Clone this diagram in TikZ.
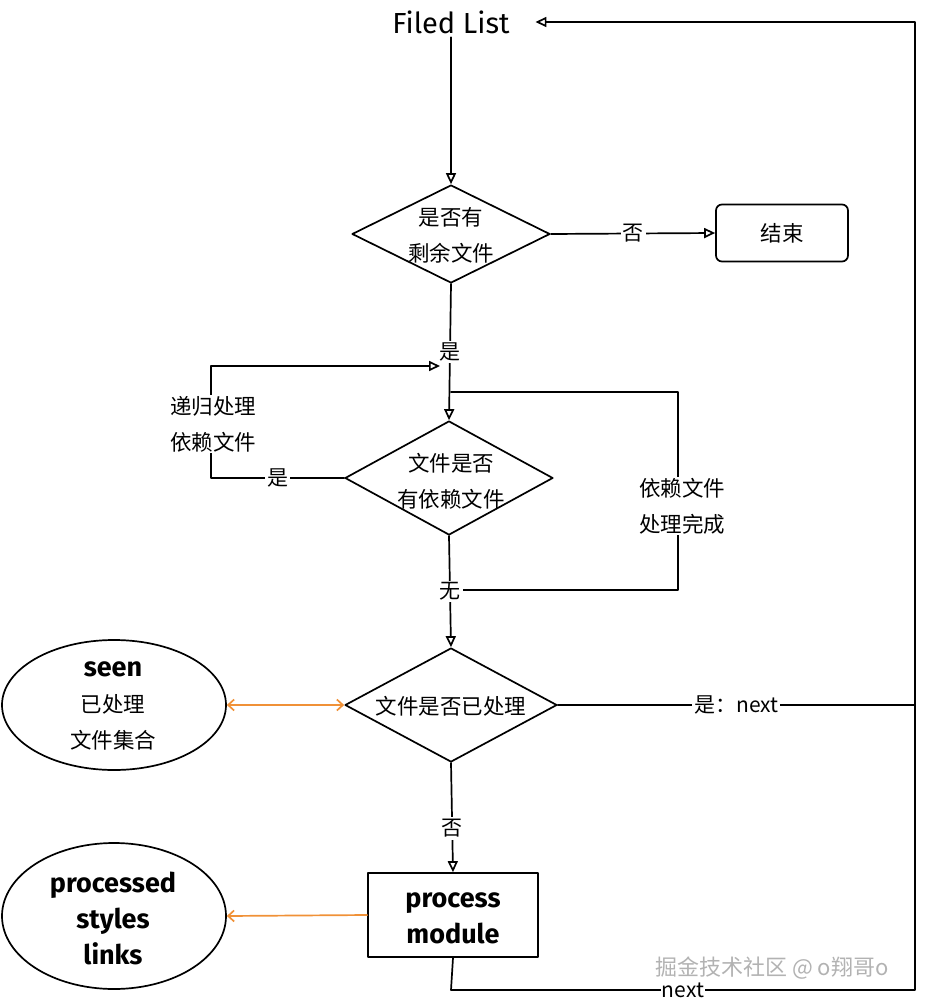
\documentclass[tikz,border=0pt]{standalone}
\usepackage{fontspec}
\setmainfont{Noto Sans CJK SC}
\newfontfamily\lat{Fira Sans}
\usetikzlibrary{shapes.geometric,arrows.meta}
\definecolor{arrorange}{RGB}{240,145,55}
\begin{document}
\begin{tikzpicture}[x=1pt,y=-1pt,
  line width=1.7pt, line join=round, line cap=round,
  dia/.style={draw, diamond, inner sep=0pt},
  txt/.style={font=\fontsize{21.5}{36}\selectfont, align=center, inner sep=1pt},
  lbl/.style={font=\fontsize{21}{24}\selectfont, fill=white, inner sep=2pt},
  big/.style={font=\lat\fontsize{27}{36}\selectfont\bfseries, align=center},
  arr/.style={-{Triangle[open,length=11pt,width=10pt]}},
  oline/.style={draw=arrorange, line width=1.7pt},
  otip/.style={-{Straight Barb[length=6pt,width=11pt]}},
  otips/.style={{Straight Barb[length=6pt,width=11pt]}-{Straight Barb[length=6pt,width=11pt]}},
]
\useasboundingbox (0,0) rectangle (930,1008);

% nodes
\node[font=\lat\fontsize{29}{32}\selectfont, inner sep=3pt] (list) at (451,22) {Filed List};

\node[dia, minimum width=198pt, minimum height=98pt] (d1) at (451,234) {};
\node[txt] (t1) at (451,235) {是否有\\剩余文件};

\node[draw, rounded corners=6pt, minimum width=132pt, minimum height=57pt] (end) at (782,233) {};
\node[txt] (tend) at (782,233) {结束};

\node[dia, minimum width=208pt, minimum height=114pt] (d2) at (449,478) {};
\node[txt] (t2) at (451,481) {文件是否\\有依赖文件};

\node[dia, minimum width=212pt, minimum height=114pt] (d3) at (451,705) {};
\node[txt] (t3) at (451,706) {文件是否已处理};

\node[draw, minimum width=170pt, minimum height=84pt] (proc) at (453,915) {};
\node[big] (tproc) at (453,918) {process\\module};

\node[draw, ellipse, minimum width=224pt, minimum height=130pt] (seen) at (114,705) {};
\node[txt] (tseen) at (113,706) {{\lat\fontsize{27}{37}\selectfont\bfseries seen}\\已处理\\文件集合};

\node[draw, ellipse, minimum width=224pt, minimum height=146pt] (links) at (114,916) {};
\node[big] (tlinks) at (113,918) {processed\\styles\\links};

% free-end coordinates
\coordinate (rin) at (440,366);
\coordinate (rs) at (451,392);
\coordinate (re) at (451,590);

% connectors
\draw[arr] (list.south) -- (d1.north);
\draw[arr] (d1.east) -- node[lbl]{否} (end.west);
\draw[arr] (d1.south) -- node[lbl]{是} (d2.north);
\draw[arr] (d2.west) -- node[lbl]{是} (211,478) -- (211,366) -- (rin);
\draw (rs) -- (678,392) -- (678,590) -- (re);
\draw[arr] (d2.south) -- node[lbl]{无} (d3.north);
\draw[arr] (d3.south) -- node[lbl,pos=0.6]{否} (proc.north);
\draw[arr] (d3.east) -- node[lbl]{是：next} (915,705) |- ([xshift=22pt]list.east);
\draw (proc.south) -- (451,990) -- node[lbl, inner sep=1pt]{next} (915,990) -- (915,705);

\draw[oline, otips] (seen.east) -- (d3.west);
\draw[oline, otip] (proc.west) -- (links.east);

% labels on loops
\node[txt, fill=white] (rec) at (213,424) {递归处理\\依赖文件};
\node[txt, fill=white] (done) at (682,506) {依赖文件\\处理完成};

% watermark
\node[font=\fontsize{22}{24}\selectfont, text=gray!60] (wm) at (772,968) {掘金技术社区 @ o翔哥o};
\end{tikzpicture}
\end{document}
